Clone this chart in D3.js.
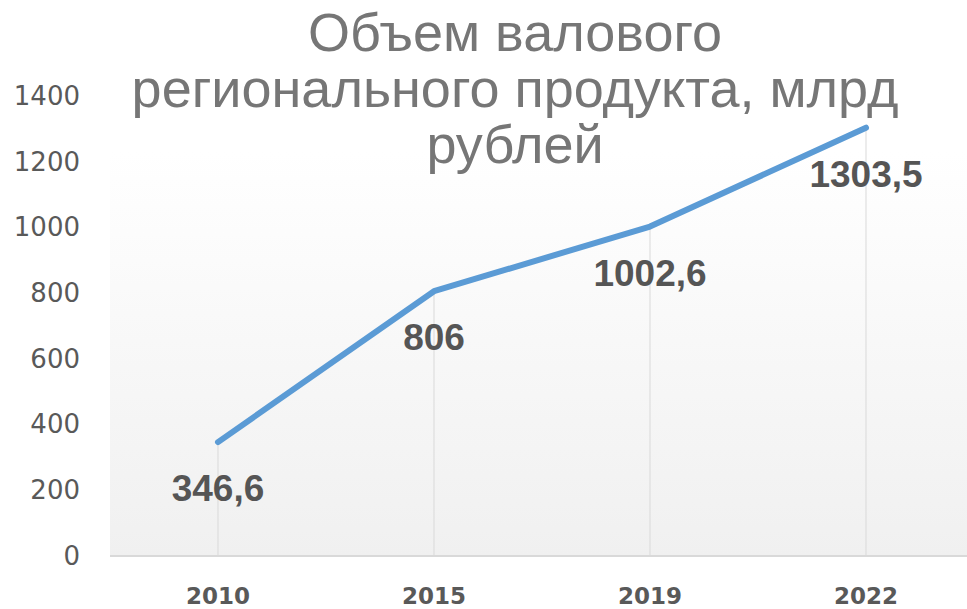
<!DOCTYPE html>
<html>
<head>
<meta charset="utf-8">
<script src="https://cdn.jsdelivr.net/npm/d3@7"></script>
<style>
  body { margin: 0; background: #fff; }
  svg { display: block; }
</style>
</head>
<body>
<svg width="967" height="609"></svg>
<script>
const years = ['2010', '2015', '2019', '2022']
const values = [346.6, 806, 1002.6, 1303.5]
const valueLabels = ['346,6', '806', '1002,6', '1303,5']
const yTicks = [0, 200, 400, 600, 800, 1000, 1200, 1400]
const titleLines = ['Объем валового', 'регионального продукта, млрд', 'рублей']

const svg = d3.select('svg')
const plotLeft = 110
const bandW = 216
const plotTop = 96
const plotBottom = 556

const x = d3.scaleBand()
  .domain(years)
  .range([plotLeft, plotLeft + bandW * years.length])
  .padding(0)

const y = d3.scaleLinear()
  .domain([0, 1400])
  .range([plotBottom, plotTop])

// plot background gradient
const defs = svg.append('defs')
const grad = defs.append('linearGradient')
  .attr('id', 'bg')
  .attr('x1', 0).attr('y1', 0).attr('x2', 0).attr('y2', 1)
grad.append('stop').attr('offset', '0%').attr('stop-color', '#ffffff')
grad.append('stop').attr('offset', '100%').attr('stop-color', '#f0f0f0')

svg.append('rect')
  .attr('x', plotLeft)
  .attr('y', 152)
  .attr('width', 967 - plotLeft)
  .attr('height', plotBottom - 152)
  .attr('fill', 'url(#bg)')

// drop lines
svg.selectAll('.drop')
  .data(values)
  .enter().append('line')
  .attr('class', 'drop')
  .attr('x1', (d, i) => x(years[i]) + x.bandwidth() / 2)
  .attr('x2', (d, i) => x(years[i]) + x.bandwidth() / 2)
  .attr('y1', d => y(d))
  .attr('y2', plotBottom)
  .attr('stroke', '#d9d9d9')
  .attr('stroke-width', 1)

// baseline
svg.append('line')
  .attr('x1', plotLeft).attr('x2', 967)
  .attr('y1', plotBottom).attr('y2', plotBottom)
  .attr('stroke', '#d9d9d9')
  .attr('stroke-width', 2)

// y axis labels
const yAxis = d3.axisLeft(y).tickValues(yTicks).tickFormat(d3.format('d')).tickSize(0).tickPadding(0)
const ya = svg.append('g')
  .attr('transform', 'translate(80,0)')
  .call(yAxis)
ya.select('.domain').remove()
ya.selectAll('text')
  .attr('fill', '#595959')
  .style('font-family', 'DejaVu Sans')
  .style('font-size', '26px')

// x axis labels
const xAxis = d3.axisBottom(x).tickSize(0).tickPadding(0)
const xa = svg.append('g')
  .attr('transform', 'translate(0,' + plotBottom + ')')
  .call(xAxis)
xa.select('.domain').remove()
xa.selectAll('text')
  .attr('dy', null)
  .attr('y', 48)
  .attr('fill', '#595959')
  .style('font-family', 'DejaVu Sans')
  .style('font-weight', 'bold')
  .style('font-size', '23px')

// line
const line = d3.line()
  .x((d, i) => x(years[i]) + x.bandwidth() / 2)
  .y(d => y(d))

svg.append('path')
  .datum(values)
  .attr('d', line)
  .attr('fill', 'none')
  .attr('stroke', '#5b9bd5')
  .attr('stroke-width', 6)
  .attr('stroke-linecap', 'round')
  .attr('stroke-linejoin', 'round')

// data labels
svg.selectAll('.lbl')
  .data(values)
  .enter().append('text')
  .attr('class', 'lbl')
  .attr('x', (d, i) => x(years[i]) + x.bandwidth() / 2)
  .attr('y', d => y(d) + 59)
  .attr('text-anchor', 'middle')
  .attr('fill', '#555555')
  .style('font-family', 'Liberation Sans')
  .style('font-weight', 'bold')
  .style('font-size', '37px')
  .text((d, i) => valueLabels[i])

// title
svg.selectAll('.title')
  .data(titleLines)
  .enter().append('text')
  .attr('class', 'title')
  .attr('x', 515)
  .attr('y', (d, i) => 51 + i * 56)
  .attr('text-anchor', 'middle')
  .attr('fill', '#767676')
  .style('font-family', 'Liberation Sans')
  .style('font-size', '54px')
  .text(d => d)
</script>
</body>
</html>
